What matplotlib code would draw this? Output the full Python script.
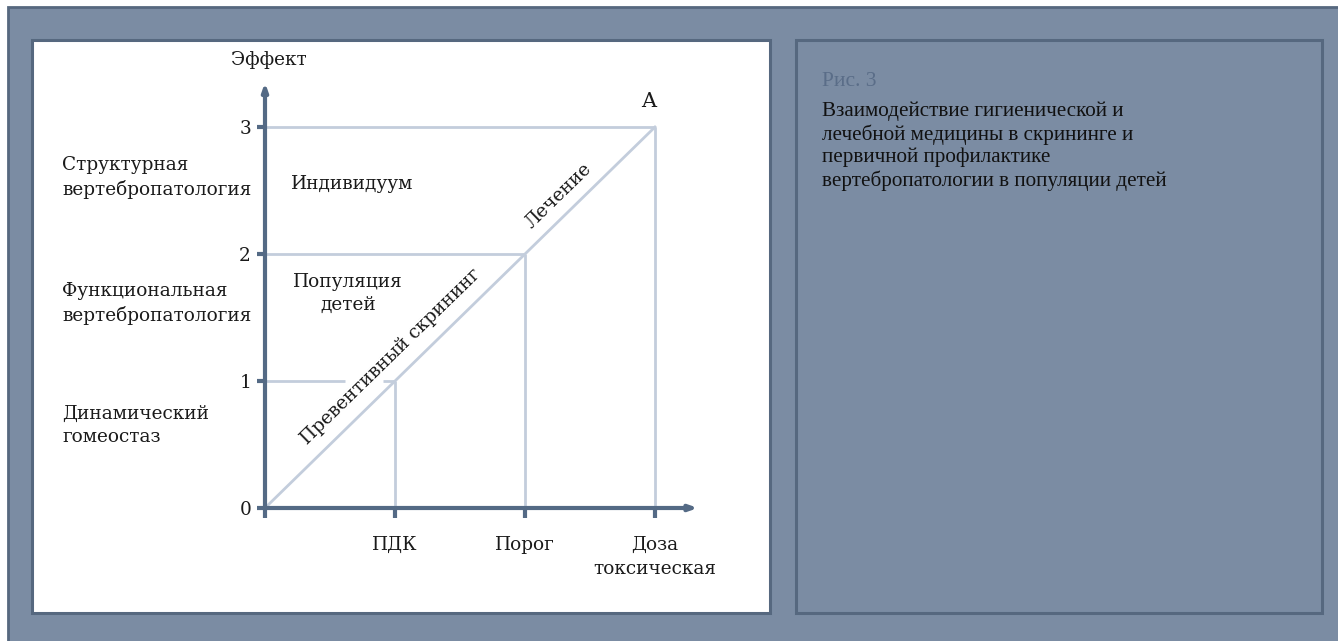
import matplotlib.pyplot as plt
from matplotlib.patches import Rectangle

W, H = 1338, 641

# chart content
y_ticks = [0, 1, 2, 3]
x_ticks = [1, 2, 3]
x_labels = ["ПДК", "Порог", "Доза\nтоксическая"]
levels = [1, 2, 3]                     # dose level -> effect level
zones = [
    (2.60, "Структурная\nвертебропатология"),
    (1.61, "Функциональная\nвертебропатология"),
    (0.65, "Динамический\nгомеостаз"),
]
caption_title = "Рис. 3"
caption_text = ("Взаимодействие гигиенической и\n"
                "лечебной медицины в скрининге и\n"
                "первичной профилактике\n"
                "вертебропатологии в популяции детей")

BG = "#7b8ca3"
EDGE = "#56687f"
AXIS = "#546a85"
GRID = "#c3cddc"
SERIF = ["DejaVu Serif"]

fig = plt.figure(figsize=(W / 100, H / 100), dpi=100)
fig.patch.set_facecolor("white")


def px_rect(x0, y0, x1, y1, **kw):
    r = Rectangle((x0 / W, 1 - y1 / H), (x1 - x0) / W, (y1 - y0) / H,
                  transform=fig.transFigure, zorder=-10, **kw)
    fig.add_artist(r)


px_rect(8, 7, W + 5, H + 5, facecolor=BG, edgecolor=EDGE, lw=2)
px_rect(32, 40, 770, 613, facecolor="white", edgecolor=EDGE, lw=2.2)
px_rect(796, 40, 1322, 613, facecolor=BG, edgecolor=EDGE, lw=2.2)

# axes placed so that origin is at (265, 508) px
ox, oy, ux, uy = 265, 508, 130, 127
xmax, ymax = 3.33, 3.35
ax = fig.add_axes([ox / W, (H - oy) / H, xmax * ux / W, ymax * uy / H])
ax.set_xlim(0, xmax)
ax.set_ylim(0, ymax)
ax.patch.set_alpha(0)
for s in ax.spines.values():
    s.set_visible(False)

# guide lines
for lv in levels:
    ax.plot([lv, lv], [0, lv], color=GRID, lw=2, solid_capstyle="butt")
    if lv == 1:
        ax.plot([0, 0.615], [lv, lv], color=GRID, lw=2, solid_capstyle="butt")
        ax.plot([0.905, lv], [lv, lv], color=GRID, lw=2, solid_capstyle="butt")
    else:
        ax.plot([0, lv], [lv, lv], color=GRID, lw=2, solid_capstyle="butt")
ax.plot([0, levels[-1]], [0, levels[-1]], color=GRID, lw=2)

# axes with arrows
arrow = dict(arrowstyle="-|>,head_length=0.45,head_width=0.16", color=AXIS, lw=3,
             shrinkA=0, shrinkB=0)
ax.annotate("", xy=(xmax, 0), xytext=(-0.01, 0), arrowprops=arrow, annotation_clip=False)
ax.annotate("", xy=(0, ymax), xytext=(0, -0.01), arrowprops=arrow, annotation_clip=False)

ax.set_yticks(y_ticks)
ax.set_yticklabels([str(v) for v in y_ticks])
ax.set_xticks([0] + x_ticks)
ax.set_xticklabels([""] + x_labels, linespacing=1.45)
ax.tick_params(axis="y", length=6, width=3, color=AXIS, pad=4, labelsize=13.3)
ax.tick_params(axis="x", length=7, width=3, color=AXIS, pad=13, labelsize=13.3)
for t in ax.get_xticklabels() + ax.get_yticklabels():
    t.set_family(SERIF)
    t.set_color("#1a1a1a")
for t in ax.get_xticklabels():
    t.set_verticalalignment("top")

txt = dict(family=SERIF, color="#1a1a1a", fontsize=13.3)
ax.text(0.03, 3.53, "Эффект", ha="center", va="center", **txt)
for y, lab in zones:
    ax.text(-1.56, y, lab, ha="left", va="center", linespacing=1.4, **txt)
ax.text(0.67, 2.55, "Индивидуум", ha="center", va="center", **txt)
ax.text(0.64, 1.69, "Популяция\nдетей", ha="center", va="center", linespacing=1.4, **txt)
ax.text(2.95, 3.2, "A", ha="center", va="center", family=SERIF, fontsize=15, color="#1a1a1a")
ax.text(2.26, 2.46, "Лечение", ha="center", va="center", rotation=44.3,
        rotation_mode="anchor", **txt)
ax.text(0.97, 1.19, "Превентивный скрининг", ha="center", va="center", rotation=44.3,
        rotation_mode="anchor", **txt)

# caption
fig.text(822 / W, 1 - 81 / H, caption_title, ha="left", va="center",
         family=["Liberation Serif"], fontsize=15.5, color="#5a6d88")
fig.text(822 / W, 1 - 146 / H, caption_text, ha="left", va="center",
         family=["Liberation Serif"], fontsize=15.2, color="#111111", linespacing=1.2)

fig.savefig("out.png", dpi=100)
